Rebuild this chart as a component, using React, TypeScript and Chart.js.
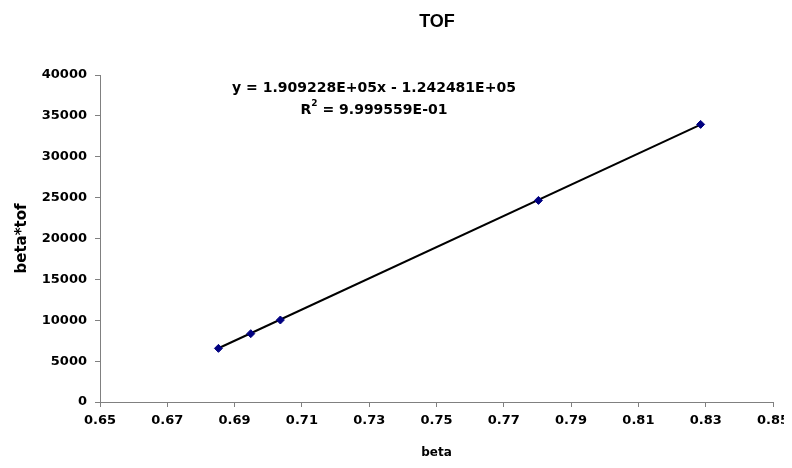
import React, { useEffect, useRef } from "react";
import { Chart, registerables } from "chart.js";

Chart.register(...registerables);

const betaValues = [0.6852, 0.6948, 0.7036, 0.7803, 0.8285];
const betaTofValues = [6560, 8360, 10030, 24660, 33960];
const slope = 1.909228e5;
const intercept = -1.242481e5;
const equationText = "y = 1.909228E+05x - 1.242481E+05";
const r2Value = "9.999559E-01";
const chartTitle = "TOF";
const xTitle = "beta";
const yTitle = "beta*tof";
const xMin = 0.65;
const xMax = 0.85;
const xStep = 0.02;
const yMin = 0;
const yMax = 40000;
const yStep = 5000;

const FONT = "'Liberation Sans', Arial, sans-serif";
const WIDE = "'DejaVu Sans', sans-serif";

export default function App() {
  const ref = useRef<HTMLCanvasElement | null>(null);

  useEffect(() => {
    if (!ref.current) return;
    const points = betaValues.map((x, i) => ({ x, y: betaTofValues[i] }));
    const lo = Math.min(...betaValues);
    const hi = Math.max(...betaValues);
    const trend = [lo, hi].map((x) => ({ x, y: slope * x + intercept }));

    const textPlugin = {
      id: "texts",
      afterDraw(chart: any) {
        const ctx = chart.ctx;
        ctx.save();
        ctx.fillStyle = "#000";
        ctx.textAlign = "center";
        ctx.textBaseline = "middle";
        ctx.font = `bold 18px ${FONT}`;
        ctx.fillText(chartTitle, 429, 14);
        const cx = 366;
        ctx.font = `bold 14px ${WIDE}`;
        ctx.fillText(equationText, cx, 80);
        // R^2 line with superscript
        const a = "R";
        const b = " = " + r2Value;
        const wa = ctx.measureText(a).width;
        ctx.font = `bold 9px ${WIDE}`;
        const ws = ctx.measureText("2").width;
        ctx.font = `bold 14px ${WIDE}`;
        const wb = ctx.measureText(b).width;
        const total = wa + ws + wb;
        const x0 = cx - total / 2;
        ctx.textAlign = "left";
        ctx.fillText(a, x0, 102);
        ctx.font = `bold 9px ${WIDE}`;
        ctx.fillText("2", x0 + wa, 96);
        ctx.font = `bold 14px ${WIDE}`;
        ctx.fillText(b, x0 + wa + ws, 102);
        ctx.restore();
      },
    };

    const chart = new Chart(ref.current, {
      type: "scatter",
      data: {
        datasets: [
          {
            type: "line",
            data: trend,
            borderColor: "#000",
            borderWidth: 2,
            pointRadius: 0,
            showLine: true,
            order: 2,
          } as any,
          {
            data: points,
            backgroundColor: "#000080",
            borderColor: "#000080",
            pointStyle: "rectRot",
            pointRadius: 4,
            borderWidth: 1,
            order: 1,
          },
        ],
      },
      options: {
        responsive: false,
        animation: false,
        layout: { padding: { top: 67, right: 11, left: 0, bottom: 0 } },
        plugins: {
          legend: { display: false },
          tooltip: { enabled: false },
          title: { display: false },
        },
        scales: {
          x: {
            type: "linear",
            min: xMin,
            max: xMax,
            afterFit(scale: any) {
              scale.height = 58;
              scale.paddingLeft = 0;
              scale.paddingRight = 0;
            },
            afterBuildTicks(scale: any) {
              const t = [];
              for (let v = xMin; v <= xMax + 1e-9; v += xStep) t.push({ value: Math.round(v * 100) / 100 });
              scale.ticks = t;
            },
            ticks: {
              color: "#000",
              font: { family: WIDE, size: 13, weight: "bold" },
              padding: 6,
              maxRotation: 0,
              autoSkip: false,
              callback: (v: any) => Number(v).toFixed(2),
            },
            grid: {
              drawOnChartArea: false,
              drawTicks: true,
              tickLength: 5,
              color: "#808080",
            },
            border: { display: true, color: "#808080", width: 1 },
            title: {
              display: true,
              text: xTitle,
              color: "#000",
              font: { family: WIDE, size: 12, weight: "bold" },
              padding: { top: 0, bottom: 0 },
            },
          },
          y: {
            type: "linear",
            min: yMin,
            max: yMax,
            afterFit(scale: any) {
              scale.width = 92;
              scale.paddingTop = 0;
              scale.paddingBottom = 0;
            },
            ticks: {
              stepSize: yStep,
              color: "#000",
              font: { family: WIDE, size: 13, weight: "bold" },
              padding: 8,
              callback: (v: any) => String(v),
            },
            grid: {
              drawOnChartArea: false,
              drawTicks: true,
              tickLength: 5,
              color: "#808080",
            },
            border: { display: true, color: "#808080", width: 1 },
            title: {
              display: true,
              text: yTitle,
              color: "#000",
              font: { family: WIDE, size: 15, weight: "bold" },
              padding: { top: 5, bottom: 0 },
            },
          },
        },
      },
      plugins: [textPlugin],
    });
    return () => chart.destroy();
  }, []);

  return <canvas ref={ref} width={776} height={452} style={{ display: "block" }} />;
}
